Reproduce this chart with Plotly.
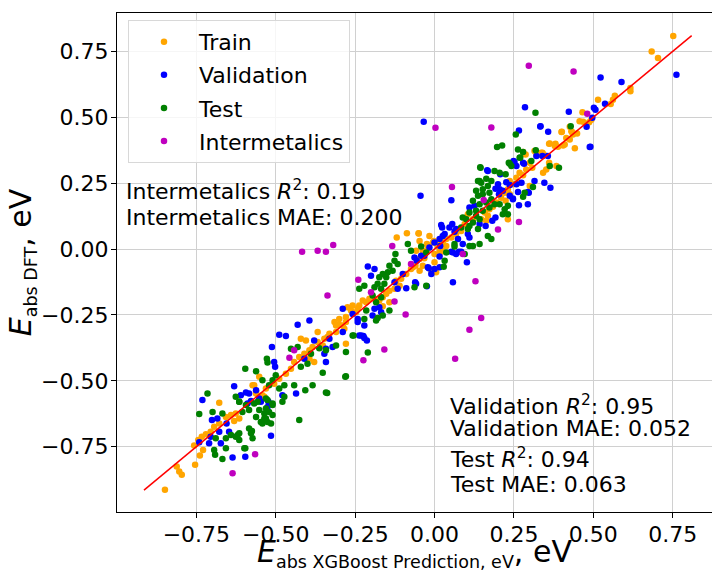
import plotly.graph_objects as go

# (XGBoost prediction, DFT) pairs for each subset, in eV
train_pts = [
    (.752, .809), (.684, .750), (.704, .725), (.617, .611), (.617, .599), (.568, .582), (.562, .567),
    (.555, .551), (.515, .567), (.494, .491), (.487, .481), (.466, .519), (.457, .485), (.426, .464),
    (.431, .447), (.436, .435), (.449, .439), (.401, .445), (.415, .422), (.426, .416), (.410, .397),
    (.405, .393), (.363, .401), (.379, .391), (.389, .388), (.442, .383), (.336, .366), (.344, .359),
    (.468, .483), (.400, .444), (.433, .444), (.381, .400), (.361, .400), (.340, .366), (.361, .328),
    (.352, .302), (.342, .290), (.384, .315), (.324, .357), (.279, .368), (.287, .359), (.315, .372),
    (.321, .355), (.300, .328), (.289, .302), (.308, .309), (.268, .290), (.279, .280), (.258, .271),
    (.268, .252), (.247, .246), (.237, .258), (.231, .227), (.221, .214), (.210, .195), (.224, .183),
    (.237, .208), (.195, .177), (.184, .161), (.173, .151), (.158, .139), (.168, .126), (.147, .113),
    (.163, .107), (.121, .113), (.095, .095), (.084, .069), (.068, .057), (.053, .044), (.037, .038),
    (.026, .025), (.010, .019), (-.005, .025), (-.021, .000), (-.037, -.006), (.016, -.006), (.000, -.019),
    (.105, .132), (.300, .239), (.231, .113), (-.050, .059),
    (-.119, .044), (-.087, .060), (-.050, .060), (-.047, .031), (-.016, .050), (-.024, .019), (-.002, .031),
    (.010, .012), (.016, -.019), (.026, -.006), (.037, .012), (-.058, -.006), (-.047, -.038), (-.032, -.035),
    (-.037, -.063), (-.060, -.063), (-.074, -.076), (-.010, -.082), (.005, -.088), (.000, -.050),
    (-.089, -.095), (-.105, -.113), (-.121, -.120), (-.110, -.139), (-.126, -.151), (-.142, -.158),
    (-.152, -.170), (-.163, -.183), (-.174, -.195), (-.189, -.189), (-.215, -.202), (-.237, -.214),
    (-.263, -.233), (-.279, -.258), (-.300, -.265), (-.289, -.290), (-.163, -.217), (-.142, -.202),
    (-.068, -.069), (-.047, -.082), (-.274, -.221), (-.258, -.214), (-.242, -.227), (-.315, -.277),
    (-.300, -.287), (-.284, -.302), (-.310, -.315), (-.331, -.321), (-.347, -.340), (-.368, -.353),
    (-.384, -.372), (-.394, -.384), (-.410, -.397), (-.426, -.410), (-.442, -.429), (-.452, -.454),
    (-.405, -.347), (-.368, -.315), (-.394, -.416), (-.379, -.429), (-.468, -.473), (-.489, -.492),
    (-.505, -.511), (-.531, -.529), (-.552, -.485), (-.568, -.517), (-.562, -.542), (-.542, -.555),
    (-.421, -.340), (-.352, -.366), (-.337, -.334), (-.310, -.290), (-.279, -.277), (-.247, -.240),
    (-.226, -.195), (-.205, -.189), (-.279, -.359),
    (-.849, -.914), (-.812, -.825), (-.804, -.844), (-.796, -.857), (-.754, -.819), (-.739, -.784),
    (-.729, -.763), (-.757, -.746), (-.744, -.725), (-.733, -.712), (-.720, -.703), (-.705, -.693),
    (-.678, -.583), (-.657, -.637), (-.641, -.630), (-.626, -.624), (-.631, -.653), (-.615, -.643),
    (-.573, -.517), (-.562, -.548), (-.552, -.573), (-.536, -.561), (-.694, -.674), (-.678, -.662),
]

val_pts = [
    (.762, .662), (.523, .651), (.589, .634), (.537, .552), (.502, .536), (.507, .529), (.285, .538),
    (.423, .521), (.497, .498), (.479, .464), (.334, .466), (.266, .450), (.358, .445), (.491, .388),
    (.321, .353), (.340, .353), (.357, .353), (-.034, .483), (-.044, .202), (.053, .185), (.166, .299),
    (.346, .252), (.365, .233), (.266, .166), (.252, .330), (.282, .324), (.207, .284), (.200, .246),
    (.192, .229), (.205, .227), (.237, .202), (.247, .192), (.258, .246), (.274, .252), (.294, .217),
    (.489, .387), (.333, .465), (.168, .296), (.249, .334), (.258, .315), (.279, .328), (.226, .254),
    (.237, .243), (.215, .221), (.203, .208), (.263, .217), (.247, .189), (.297, .214), (.315, .258),
    (.110, .158), (.126, .164), (.192, .120), (.182, .107), (.142, .095), (.161, .088), (.056, .095),
    (.068, .076), (.024, .082), (.032, .057), (.016, .038), (.000, .025), (-.016, .006), (.089, .019),
    (.084, -.010), (.053, -.010), (.068, -.019), (.105, .057), (.110, .044), (.294, .170), (.018, .012),
    (-.032, -.025), (.021, .091), (.047, .082), (.063, .066), (.074, .038), (.026, .050), (-.042, -.025),
    (-.063, -.032), (-.056, -.044), (-.018, -.073), (-.010, -.095), (.000, -.076), (.016, -.028),
    (.016, -.069), (-.210, -.066), (-.189, -.076), (-.200, -.101), (-.100, -.095), (-.058, -.132),
    (-.089, -.149), (-.116, -.151), (-.126, -.126), (-.024, -.141), (-.174, -.221), (-.168, -.240),
    (-.189, -.227), (-.195, -.252), (-.258, -.246), (-.289, -.227), (-.242, -.265), (-.221, -.290),
    (-.237, -.328), (-.224, -.330), (.102, -.050), (.058, -.126), (-.061, -.126), (-.021, -.069),
    (.058, -.013), (.077, -.010), (-.431, -.287), (-.394, -.271), (-.489, -.325), (-.468, -.330),
    (-.512, -.372), (-.242, -.277), (-.379, -.347), (-.331, -.340), (-.321, -.372), (-.289, -.315),
    (-.347, -.397), (-.342, -.429), (-.410, -.416), (-.505, -.429), (-.502, -.447), (-.631, -.521),
    (-.436, -.548), (-.610, -.555), (-.584, -.548), (-.589, -.586), (-.552, -.567), (-.523, -.580),
    (-.479, -.555), (-.231, -.328), (-.221, -.338), (-.213, -.347), (-.515, -.709), (-.342, -.378),
    (-.731, -.573), (-.594, -.544), (-.578, -.577), (-.562, -.536), (-.701, -.649), (-.684, -.643),
    (-.655, -.662), (-.647, -.693), (-.678, -.693), (-.705, -.712), (-.741, -.733), (-.710, -.737),
    (-.673, -.737), (-.636, -.791), (-.596, -.788), (-.547, -.580), (-.526, -.599),
]

test_pts = [
    (.318, .517), (.429, .466), (.256, .435), (.213, .393), (.263, .378), (.279, .368), (.319, .375),
    (.270, .348), (.197, .387), (.237, .324), (.242, .315), (.268, .347), (.305, .334), (.145, .309),
    (.142, .258), (.392, .309), (.363, .315), (.310, .236), (.284, .214), (.234, .328), (.144, .311),
    (.189, .296), (.205, .290), (.224, .284), (.137, .258), (.147, .252), (.163, .267), (.179, .258),
    (.168, .239), (.152, .227), (.131, .221), (.137, .202), (.152, .208), (.173, .214), (.179, .189),
    (.121, .183), (.142, .170), (.163, .177), (.131, .145), (.110, .139), (.100, .113), (.131, .126),
    (.142, .113), (.121, .101), (.110, .088), (.137, .076), (.105, .076), (.084, .082), (.089, .120),
    (.152, .145), (.173, .158), (.189, .170), (.205, .170), (.221, .151), (.231, .164), (.279, .199),
    (.231, .132), (.215, .132), (.168, .050), (.179, .038), (.142, .019), (.121, .012), (.063, .010),
    (-.042, .010), (-.026, -.013), (.095, -.019), (-.084, .019), (-.074, -.006), (-.123, -.019),
    (-.126, -.044), (-.116, -.057), (-.142, -.063), (-.132, -.082), (-.147, -.088), (-.163, -.095),
    (-.174, -.107), (-.152, -.107), (-.179, -.132), (-.158, -.132), (-.189, -.145), (-.168, -.151),
    (-.195, -.176), (-.184, -.202), (-.168, -.183), (-.026, -.139), (.032, -.044), (-.237, -.151),
    (-.221, -.139), (-.215, -.233), (-.221, -.265), (-.184, -.271), (-.179, -.262), (-.142, -.233),
    (-.163, -.252), (-.258, -.328), (-.063, -.145), (.029, -.067), (.037, -.013), (.063, .019),
    (.110, .012), (-.596, -.454), (-.562, -.464), (-.528, -.416), (-.526, -.431), (-.452, -.378),
    (-.431, -.372), (-.389, -.397), (-.363, -.376), (-.342, -.384), (-.310, -.366), (-.279, -.391),
    (-.421, -.447), (-.400, -.435), (-.352, -.469), (-.281, -.485), (-.384, -.517), (-.407, -.536),
    (-.442, -.517), (-.473, -.517), (-.489, -.529), (-.510, -.498), (-.521, -.517), (-.542, -.498),
    (-.500, -.479), (-.342, -.544), (-.626, -.561), (-.615, -.580), (-.568, -.586), (-.531, -.567),
    (-.510, -.586), (-.473, -.561), (-.479, -.580), (-.426, -.649), (-.338, -.546), (-.279, -.483),
    (-.210, -.393), (-.255, -.328), (-.531, -.605), (-.521, -.618), (-.510, -.630), (-.536, -.643),
    (-.526, -.656), (-.515, -.662), (-.542, -.662), (-.510, -.592), (-.715, -.548), (-.741, -.626),
    (-.699, -.618), (-.668, -.624), (-.689, -.718), (-.657, -.718), (-.641, -.706), (-.626, -.712),
    (-.694, -.763), (-.691, -.781), (-.657, -.756), (-.668, -.797), (-.596, -.756), (-.615, -.699),
    (-.615, -.725), (-.584, -.681), (-.578, -.699), (-.573, -.718), (-.605, -.618), (-.584, -.611),
    (-.562, -.637), (-.547, -.656), (-.531, -.643), (-.557, -.580), (-.552, -.611), (-.526, -.573),
    (-.536, -.624), (-.594, -.592), (-.615, -.580), (-.575, -.691), (-.599, -.756), (-.620, -.706),
]

inter_pts = [
    (.297, .696), (.438, .674), (.003, .460), (.179, .461), (.481, .514), (.055, .236), (.155, .186),
    (.266, .103), (.200, .074), (.089, -.019), (-.133, .012), (-.074, -.057), (-.240, -.116),
    (-.200, -.164), (-.126, -.199), (-.091, -.248), (-.337, -.176), (-.442, -.384), (-.457, -.413),
    (-.417, -.010), (-.368, -.006), (-.342, -.010), (-.319, .015), (-.158, -.381), (-.224, -.422),
    (-.565, -.779), (-.636, -.851), (.129, -.122), (.147, -.262), (.110, -.306), (.065, -.416),
]

# y = x reference line end points
diag = [-0.915, 0.81]

tick_vals = [-0.75, -0.5, -0.25, 0.0, 0.25, 0.5, 0.75]
tick_text = ["\u22120.75", "\u22120.50", "\u22120.25", "0.00", "0.25", "0.50", "0.75"]

inter_stats = ["Intermetalics <i>R</i><sup>2</sup>: 0.19", "Intermetalics MAE: 0.200"]
val_stats = ["Validation <i>R</i><sup>2</sup>: 0.95", "Validation MAE: 0.052"]
test_stats = ["Test <i>R</i><sup>2</sup>: 0.94", "Test MAE: 0.063"]

FONT = "DejaVu Sans"
SUB = '<sub><span style="font-size:17.5px">{}</span></sub>'

series = [
    ("Train", train_pts, "#FFA500"),
    ("Validation", val_pts, "#0000FF"),
    ("Test", test_pts, "#008000"),
    ("Intermetalics", inter_pts, "#BF00BF"),
]

fig = go.Figure()
for name, pts, color in series:
    xs, ys = zip(*pts)
    fig.add_trace(go.Scatter(
        x=list(xs), y=list(ys), mode="markers", name=name,
        legendgroup=name,
        marker=dict(color=color, size=6.5, line=dict(width=0)),
    ))

fig.add_trace(go.Scatter(
    x=diag, y=diag, mode="lines", line=dict(color="#FF0000", width=1.5),
    showlegend=False, hoverinfo="skip",
))

L, T, B = 117, 13, 58
W, H = 712, 572
PW, PH = W - L, H - T - B


def px_to_paper(px, py):
    return (px - L) / PW, (H - B - py) / PH


anns = []
for text, (px, py) in zip(inter_stats + val_stats + test_stats,
                          [(124, 190.5), (124, 218.5), (448, 406.5), (448, 430.5), (448, 460), (448, 486.5)]):
    ax, ay = px_to_paper(px, py)
    anns.append(dict(text=text, x=ax, y=ay, xref="paper", yref="paper",
                     xanchor="left", yanchor="middle", showarrow=False,
                     font=dict(family=FONT, size=22, color="black")))

axis_common = dict(
    tickvals=tick_vals, ticktext=tick_text,
    ticks="outside", ticklen=5, tickwidth=1, tickcolor="black",
    showline=True, linecolor="black", linewidth=1.2,
    showgrid=True, gridcolor="#d0d0d0", gridwidth=1.2,
    zeroline=False,
    tickfont=dict(family=FONT, size=22, color="black"),
)

fig.update_layout(
    width=W, height=H,
    margin=dict(l=L, r=0, t=T, b=B, pad=0),
    paper_bgcolor="white", plot_bgcolor="white",
    font=dict(family=FONT, color="black"),
    xaxis=dict(range=[-1.0, 0.874], mirror=True, ticklabelstandoff=-3,
               title=dict(text="<i>E</i>" + SUB.format("abs XGBoost Prediction, eV") + ", eV",
                          font=dict(family=FONT, size=30), standoff=4),
               **axis_common),
    yaxis=dict(range=[-0.998, 0.896], mirror=False, ticklabelstandoff=-2,
               title=dict(text="<i>E</i>" + SUB.format("abs DFT") + ", eV",
                          font=dict(family=FONT, size=30), standoff=0),
               **axis_common),
    legend=dict(
        x=(128 - L) / PW, y=(H - B - 20) / PH, xanchor="left", yanchor="top",
        font=dict(family=FONT, size=22, color="black"),
        bgcolor="rgba(255,255,255,0.8)", bordercolor="#d8d8d8", borderwidth=1,
        itemwidth=60, tracegroupgap=1.5,
    ),
    annotations=anns,
    showlegend=True,
)

fig.write_html("out.html")
